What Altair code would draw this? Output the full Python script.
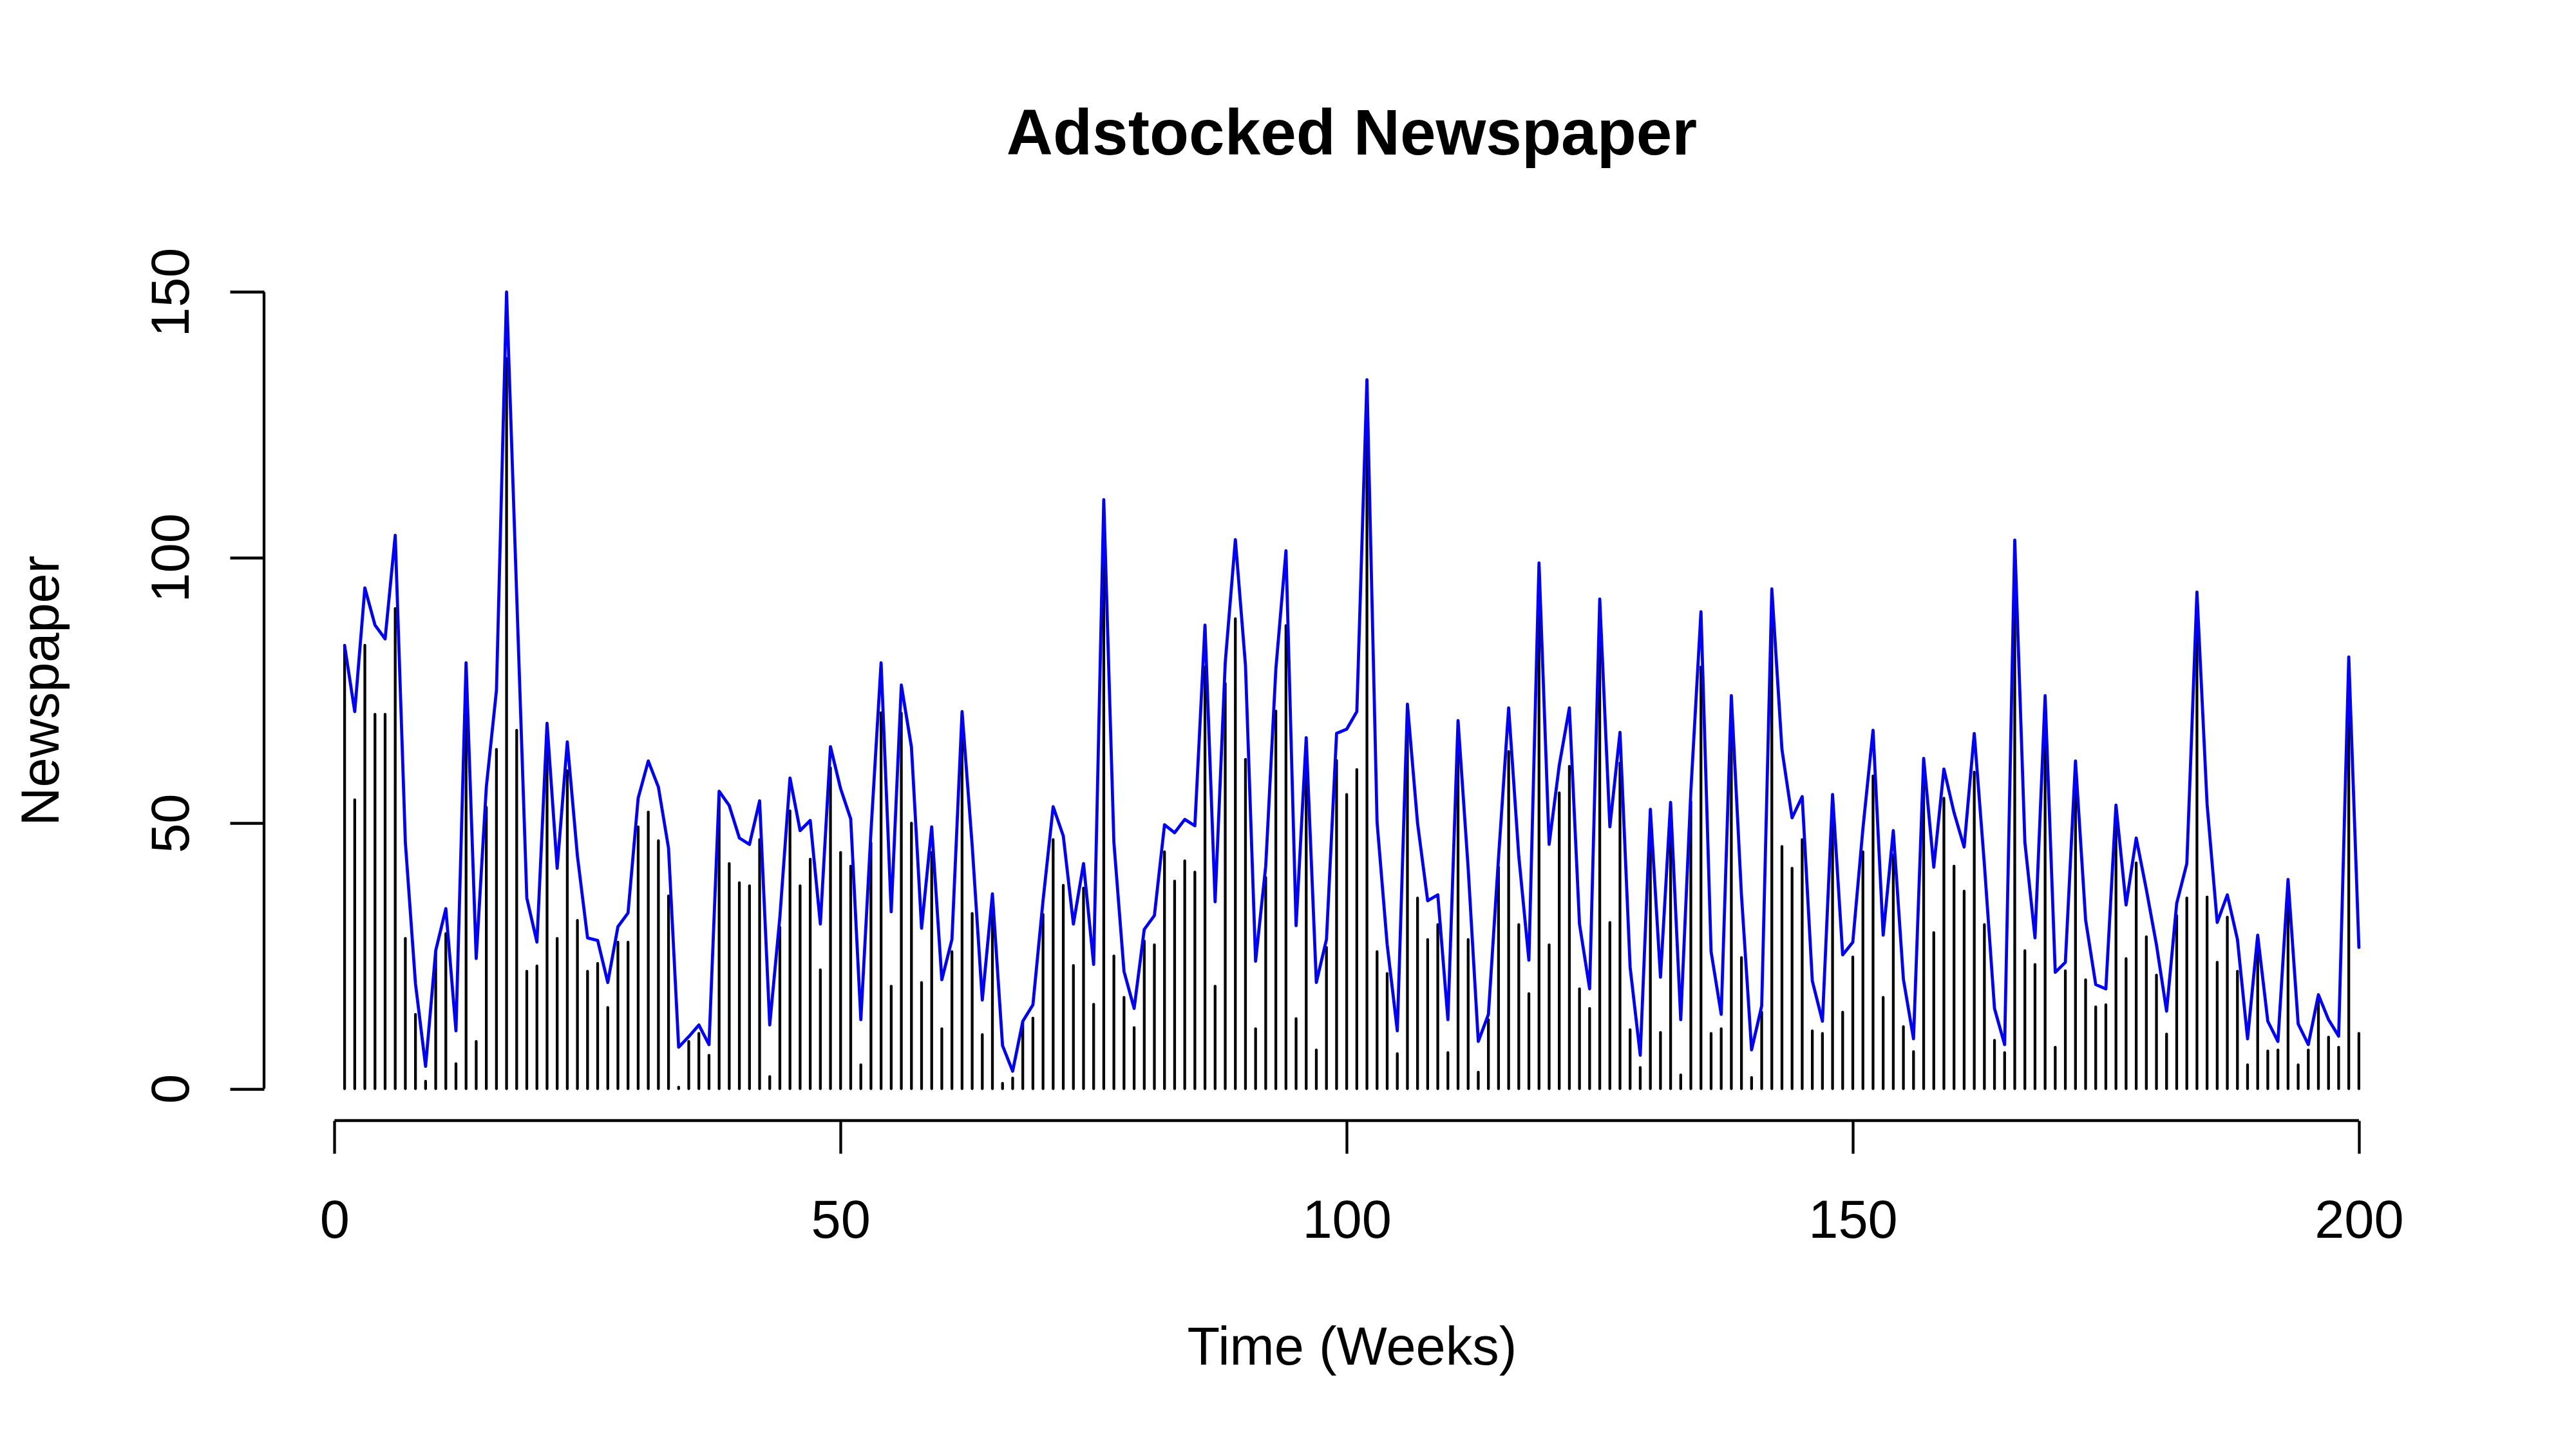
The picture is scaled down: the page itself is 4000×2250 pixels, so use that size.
import altair as alt
import pandas as pd

# weekly newspaper spend (black spikes) and its adstocked version (blue line)
weeks = list(range(1, 201))

newspaper_001_050 = [
    83.5, 54.4, 83.5, 70.5, 70.5, 90.4, 28.3, 14.0, 1.4, 25.5,
    29.2, 4.7, 78.6, 8.9, 53.0, 63.9, 137.5, 67.5, 22.1, 23.1,
    64.3, 28.3, 59.9, 31.7, 22.1, 23.6, 15.3, 27.6, 27.6, 49.3,
    52.1, 46.7, 36.3, 0.3, 8.9, 10.4, 6.3, 54.7, 42.4, 38.8,
    38.2, 46.9, 2.3, 30.4, 52.3, 38.2, 43.2, 22.4, 60.4, 44.5,
]
newspaper_051_100 = [
    41.9, 4.5, 46.3, 70.8, 19.3, 70.7, 50.0, 20.0, 44.5, 11.3,
    25.8, 66.5, 33.0, 10.2, 34.0, 1.0, 2.0, 12.5, 13.3, 32.8,
    46.9, 38.3, 23.2, 37.8, 15.9, 107.2, 25.0, 17.2, 11.5, 27.8,
    27.1, 44.6, 39.1, 42.9, 40.8, 79.4, 19.3, 76.3, 88.5, 62.0,
    11.3, 39.8, 71.1, 87.2, 13.2, 61.2, 7.3, 26.6, 61.8, 55.4,
]
newspaper_101_150 = [
    60.1, 122.1, 25.8, 21.7, 6.6, 70.7, 35.9, 28.1, 30.9, 6.8,
    67.2, 28.1, 3.1, 13.0, 41.7, 63.5, 30.9, 17.9, 95.1, 27.1,
    55.7, 60.7, 18.8, 15.1, 89.2, 31.3, 61.3, 11.1, 4.0, 51.6,
    10.6, 50.5, 2.6, 54.0, 79.4, 10.4, 11.3, 71.8, 24.7, 2.1,
    14.4, 91.6, 45.6, 41.5, 46.9, 10.9, 10.4, 53.4, 14.4, 24.8,
]
newspaper_151_200 = [
    44.6, 58.9, 17.2, 44.0, 11.7, 7.0, 60.7, 29.4, 54.7, 41.9,
    37.2, 59.6, 30.9, 9.1, 6.8, 102.0, 26.0, 23.4, 69.5, 7.8,
    22.2, 57.9, 20.5, 15.4, 15.8, 50.4, 24.5, 42.5, 28.6, 21.4,
    10.3, 32.6, 35.9, 86.7, 36.1, 23.8, 32.3, 22.1, 4.5, 27.4,
    7.1, 7.3, 38.0, 4.5, 7.3, 16.4, 9.7, 7.8, 79.6, 10.4,
]

adstock_001_050 = [
    83.4, 71.0, 94.3, 87.3, 84.7, 104.2, 46.4, 19.8, 4.2, 26.0,
    33.9, 10.9, 80.2, 24.5, 56.8, 75.0, 150.0, 93.0, 35.9, 27.6,
    68.8, 41.5, 65.3, 43.8, 28.4, 27.9, 20.0, 30.5, 33.1, 54.7,
    61.7, 56.8, 45.3, 7.8, 9.8, 12.0, 8.3, 56.0, 53.3, 47.2,
    46.0, 54.2, 12.0, 32.3, 58.5, 48.6, 50.5, 31.0, 64.4, 56.5,
]
adstock_051_100 = [
    50.8, 13.0, 48.4, 80.2, 33.3, 76.0, 64.3, 30.2, 49.3, 20.5,
    28.1, 71.0, 45.8, 16.7, 36.7, 8.1, 3.3, 12.7, 15.8, 35.4,
    53.1, 47.6, 31.0, 42.4, 23.4, 110.9, 46.4, 22.1, 15.1, 30.0,
    32.6, 49.7, 48.2, 50.7, 49.5, 87.3, 35.2, 80.2, 103.4, 79.7,
    24.0, 41.9, 79.0, 101.3, 30.7, 66.1, 20.0, 28.1, 66.9, 67.7,
]
adstock_101_150 = [
    71.0, 133.5, 50.2, 27.1, 10.9, 72.4, 50.0, 35.4, 36.5, 13.0,
    69.3, 41.5, 8.9, 14.0, 43.5, 71.7, 43.8, 24.2, 99.0, 46.0,
    60.9, 71.7, 31.0, 18.8, 92.2, 49.3, 67.1, 22.9, 6.3, 52.6,
    21.0, 53.9, 13.0, 56.0, 89.8, 25.8, 14.0, 74.0, 36.5, 7.3,
    15.6, 94.1, 63.9, 51.0, 55.0, 20.3, 12.7, 55.4, 25.2, 27.6,
]
adstock_151_200 = [
    49.0, 67.5, 28.9, 48.6, 20.6, 9.4, 62.2, 41.7, 60.2, 52.0,
    45.5, 66.9, 42.2, 15.1, 8.3, 103.3, 46.4, 28.4, 74.0, 21.9,
    23.8, 61.7, 31.8, 19.6, 18.8, 53.4, 34.6, 47.2, 37.5, 27.1,
    14.6, 34.9, 42.4, 93.5, 53.6, 31.3, 36.5, 28.1, 9.4, 28.9,
    12.7, 8.9, 39.4, 12.2, 8.3, 17.7, 13.0, 9.9, 81.3, 26.6,
]

newspaper = newspaper_001_050 + newspaper_051_100 + newspaper_101_150 + newspaper_151_200
adstock = adstock_001_050 + adstock_051_100 + adstock_101_150 + adstock_151_200

x_ticks = [0, 50, 100, 150, 200]
y_ticks = [0, 50, 100, 150]

df = pd.DataFrame({"week": weeks, "newspaper": newspaper, "adstock": adstock})
df_xaxis = pd.DataFrame({"start": [x_ticks[0]], "end": [x_ticks[-1]]})
df_yaxis = pd.DataFrame({"start": [y_ticks[0]], "end": [y_ticks[-1]]})

W = 3378
H = 1336
FONT = "Liberation Sans"
LW = 4.3

# R-style padded ranges (4% each side)
x_scale = alt.Scale(domain=[-6.96, 207.96], nice=False, zero=False)
y_scale = alt.Scale(domain=[-6, 156], nice=False, zero=False)

x_axis = alt.Axis(
    values=x_ticks,
    title="Time (Weeks)",
    domain=False,
    grid=False,
    ticks=True,
    tickSize=51,
    tickWidth=LW,
    tickColor="black",
    labelFont=FONT,
    labelFontSize=83,
    labelColor="black",
    labelPadding=130,
    labelBaseline="alphabetic",
    labelFlush=False,
    labelOverlap=False,
    titleFont=FONT,
    titleFontSize=83,
    titleFontWeight="normal",
    titleColor="black",
    titleX=W / 2,
    titleY=378,
    titleAlign="center",
    titleBaseline="alphabetic",
)
y_axis = alt.Axis(
    values=y_ticks,
    title="Newspaper",
    domain=False,
    grid=False,
    ticks=True,
    tickSize=53,
    tickWidth=LW,
    tickColor="black",
    labelFont=FONT,
    labelFontSize=83,
    labelColor="black",
    labelAngle=270,
    labelAlign="center",
    labelBaseline="alphabetic",
    labelPadding=65,
    labelFlush=False,
    labelOverlap=False,
    titleFont=FONT,
    titleFontSize=83,
    titleFontWeight="normal",
    titleColor="black",
    titleAngle=270,
    titleX=-320,
    titleY=H / 2,
    titleAlign="center",
    titleBaseline="alphabetic",
)

spikes = (
    alt.Chart(df)
    .mark_rule(color="black", strokeWidth=LW, strokeCap="round")
    .encode(
        alt.X("week:Q", scale=x_scale, axis=x_axis),
        alt.Y("newspaper:Q", scale=y_scale, axis=y_axis),
        y2=alt.datum(0),
    )
)

adstock_line = (
    alt.Chart(df)
    .mark_line(color="#0000FF", strokeWidth=4.8, strokeJoin="round", strokeCap="round")
    .encode(
        alt.X("week:Q", scale=x_scale, axis=x_axis),
        alt.Y("adstock:Q", scale=y_scale, axis=y_axis),
    )
)

# axis lines only span the tick range, like base R
x_line = (
    alt.Chart(df_xaxis)
    .mark_rule(color="black", strokeWidth=LW)
    .encode(
        alt.X("start:Q", scale=x_scale, axis=x_axis),
        x2="end:Q",
        y=alt.value(H),
    )
)
y_line = (
    alt.Chart(df_yaxis)
    .mark_rule(color="black", strokeWidth=LW)
    .encode(
        alt.Y("start:Q", scale=y_scale, axis=y_axis),
        y2="end:Q",
        x=alt.value(0),
    )
)

chart = (
    alt.layer(spikes, adstock_line, x_line, y_line)
    .properties(
        width=W,
        height=H,
        background="white",
        title=alt.Title(
            "Adstocked Newspaper",
            font=FONT,
            fontSize=100,
            fontWeight="bold",
            color="black",
            anchor="middle",
            baseline="alphabetic",
            offset=44,
        ),
        autosize=alt.AutoSizeParams(type="none"),
        padding={"left": 402, "top": 396, "right": 190, "bottom": 480},
    )
    .configure_view(strokeWidth=0)
)

chart.save("out.html", embed_options={"renderer": "svg", "actions": False})
